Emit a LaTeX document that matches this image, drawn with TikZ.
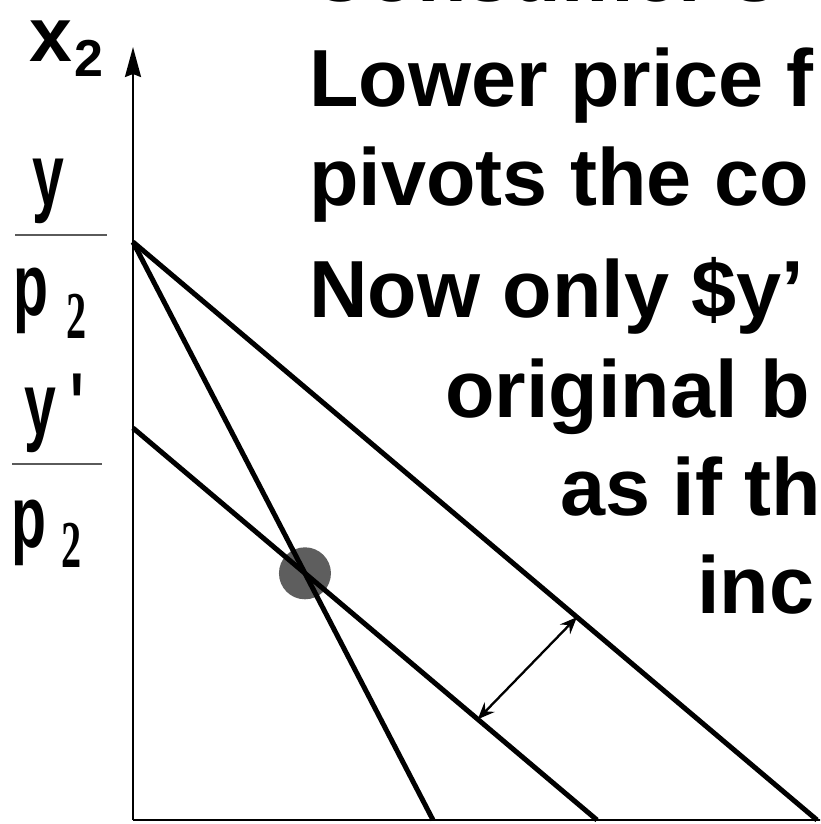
\documentclass[tikz,border=0pt]{standalone}
\usepackage{fontspec}
\setmainfont{Liberation Sans}
\newfontfamily\numserif{Liberation Serif}
\newfontfamily\plainsans{Liberation Sans}[Ligatures=TeXOff]
\usepackage{tikz}
\usetikzlibrary{arrows.meta,calc}
\definecolor{dotc}{HTML}{5E5E5E}
\definecolor{rulec}{HTML}{5A5A5A}
\newcommand{\narrowtxt}[1]{\scalebox{0.65}[1]{#1}}
\newcommand{\subtwo}[1]{\scalebox{0.6}[1]{\numserif\bfseries\fontsize{67}{67}\selectfont #1}}
\tikzset{
  slide/.style={anchor=base west,inner sep=0pt,font=\fontsize{81}{97}\selectfont\bfseries},
  lab/.style={anchor=base west,inner sep=0pt,font=\fontsize{88}{88}\selectfont\bfseries},
  bline/.style={line width=5pt},
  axisline/.style={line width=2.3pt},
}

\begin{document}
\begin{tikzpicture}[x=1pt,y=-1pt]
  \clip (0,0) rectangle (820,824);
  \fill[white] (0,0) rectangle (820,824);

  % slide text, cut at the right edge
  \node[slide] (title) at (309,2) {Consumer’s};
  \node[slide] (t1) at (309,107) {Lower price f};
  \node[slide] (t2) at (309,205) {pivots the co};
  \node[slide] (t3) at (309,317) {Now only \$y’};
  \node[slide] (t4) at (445,417) {original b};
  \node[slide] (t5) at (560,515) {as if th};
  \node[slide] (t6) at (697,613) {inc};

  % axes
  \coordinate (O) at (133,820);
  \coordinate (ytop) at (133,47);
  \coordinate (xend) at (830,820);
  \draw[axisline,-{Stealth[length=30pt,width=16pt,inset=3pt]}] (O) -- (ytop);
  \draw[axisline] (O) -- (xend);
  \node[anchor=base west,inner sep=0pt,font=\fontsize{77}{77}\selectfont\bfseries] (xlab) at (29,62) {x};
  \node[anchor=base west,inner sep=0pt,font=\fontsize{52}{52}\selectfont\bfseries] (xsub) at (74,77) {2};

  % intercept labels
  \node[lab] (ylab) at (32,205) {\narrowtxt{y}};
  \draw[rulec,line width=1.4pt] (15,235) -- (107,235);
  \node[lab] (plab) at (13,315) {\narrowtxt{p}};
  \node[anchor=base west,inner sep=0pt] (psub) at (66,338) {\subtwo{2}};
  \node[lab] (yplab) at (24,434) {\narrowtxt{y}};
  \node[anchor=base west,inner sep=0pt,font=\plainsans\bfseries\fontsize{88}{88}\selectfont] (prime) at (70,434) {\narrowtxt{'}};
  \draw[rulec,line width=1.4pt] (12,464) -- (102,464);
  \node[lab] (pplab) at (11,547) {\narrowtxt{p}};
  \node[anchor=base west,inner sep=0pt] (ppsub) at (61,567) {\subtwo{2}};

  % budget lines
  \coordinate (A) at (133,242);
  \coordinate (Ap) at (133,428);
  \coordinate (B1) at (433,820);
  \coordinate (B2) at (597,820);
  \coordinate (B3) at (817,820);
  \node[circle,fill=dotc,minimum size=52pt,inner sep=0pt] (opt) at (intersection of A--B1 and Ap--B2) {};
  \draw[bline] (A) -- (B1);
  \draw[bline] (Ap) -- (B2);
  \draw[bline] (A) -- (B3);

  % shift between the parallel lines
  \coordinate (lo) at ($(Ap)!0.743!(B2)$);
  \coordinate (hi) at ($(A)!0.649!(B3)$);
  \draw[line width=2.3pt,{Stealth[length=17pt,width=14pt,inset=6pt]}-{Stealth[length=17pt,width=14pt,inset=6pt]}] (lo) -- (hi);
\end{tikzpicture}
\end{document}
